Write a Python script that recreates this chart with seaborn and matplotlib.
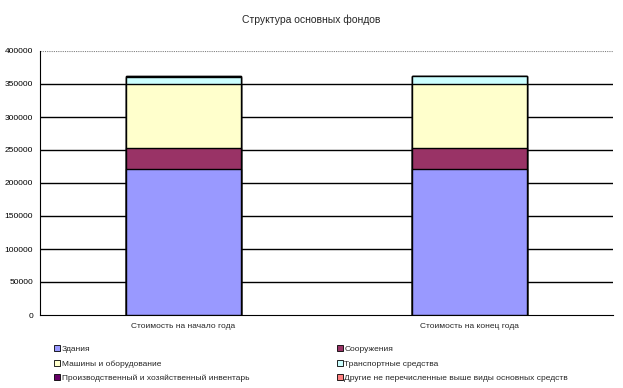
import numpy as np
import pandas as pd
import seaborn as sns
import matplotlib.pyplot as plt
from matplotlib.patches import Patch

categories = ["Стоимость на начало года", "Стоимость на конец года"]
series_names = ["Здания", "Сооружения", "Машины и оборудование",
                "Транспортные средства",
                "Производственный и хозяйственный инвентарь",
                "Другие не перечисленные выше виды основных средств"]
zdaniya = [221000, 221000]
sooruzheniya = [31500, 31500]
mashiny = [97000, 97000]
transport = [10500, 12000]
inventar = [1500, 0]
drugie = [0, 0]
colors = ["#9999FF", "#993366", "#FFFFCC", "#CCFFFF", "#660066", "#FF8080"]
yticks = [0, 50000, 100000, 150000, 200000, 250000, 300000, 350000, 400000]

sns.set_style("white")
plt.rcParams['font.family'] = ['Liberation Sans', 'DejaVu Sans']

values = np.array([zdaniya, sooruzheniya, mashiny, transport, inventar, drugie])
cum = values.cumsum(axis=0)

fig = plt.figure(figsize=(6.23, 3.88), dpi=100)
ax = fig.add_axes([40/623, 1-315/388, 573/623, 264/388])

# draw cumulative totals from the top down so the bars look stacked
for i in range(len(series_names) - 1, -1, -1):
    df = pd.DataFrame({"cat": categories, "val": cum[i]})
    sns.barplot(data=df, x="cat", y="val", color=colors[i], width=0.4,
                edgecolor="black", linewidth=1.0, saturation=1, ax=ax, zorder=3)

ax.set_ylim(0, 400000)
ax.set_xlim(-0.5, 1.5)
ax.set_yticks(yticks)
ax.set_yticklabels([str(t) for t in yticks], fontsize=6)
ax.set_xticks([-0.5, 0.5, 1.5], minor=False)
ax.set_xticklabels(["", "", ""])
ax.tick_params(axis="x", direction="out", length=3, width=0.8, colors="black")
ax.tick_params(axis="y", direction="out", length=3, width=0.8, colors="black", pad=2)
for i, c in enumerate(categories):
    ax.text(i, -12000, c, ha="center", va="top", fontsize=6)
ax.set_xlabel("")
ax.set_ylabel("")
for y in yticks[1:-1]:
    ax.axhline(y, color="black", lw=1.0, zorder=1)
ax.axhline(400000, color="#808080", lw=0.8, ls=(0, (1, 1)), zorder=1)
for s in ["top", "right"]:
    ax.spines[s].set_visible(False)
ax.spines["left"].set_color("black")
ax.spines["bottom"].set_color("black")
ax.spines["left"].set_linewidth(0.8)
ax.spines["bottom"].set_linewidth(0.8)

fig.text(0.5, 1-20/388, "Структура основных фондов", ha="center", va="center", fontsize=7.5)

order = [0, 2, 4, 1, 3, 5]
handles = [Patch(facecolor=colors[i], edgecolor="black", linewidth=0.6, label=series_names[i]) for i in order]
fig.legend(handles=handles, ncol=2, loc="upper left", bbox_to_anchor=(50/623, 1-341/388),
           frameon=False, fontsize=6, handlelength=0.7, handleheight=0.7,
           handletextpad=0.2, columnspacing=10.5, labelspacing=0.8, borderpad=0)

fig.savefig("out.png", dpi=100)
